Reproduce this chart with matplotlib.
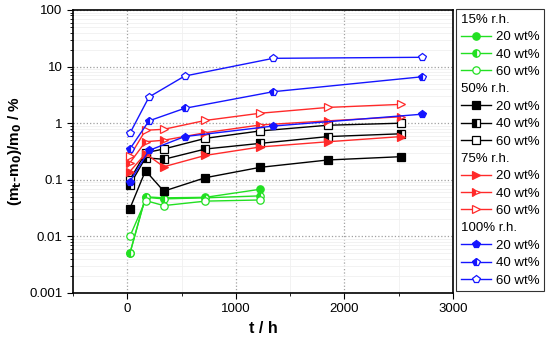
import matplotlib.pyplot as plt
from matplotlib.lines import Line2D
from matplotlib.ticker import MultipleLocator, LogLocator, NullFormatter, FixedLocator, FixedFormatter

# Data
t15 = [24, 168, 336, 720, 1224]
t50 = [24, 168, 336, 720, 1224, 1848, 2520]
t75 = [24, 168, 336, 720, 1224, 1848, 2520]
t100 = [24, 200, 528, 1344, 2712]

g20 = [0.005, 0.050, 0.048, 0.049, 0.068]
g40 = [0.005, 0.049, 0.046, 0.048, 0.052]
g60 = [0.010, 0.043, 0.035, 0.042, 0.044]

k20 = [0.031, 0.145, 0.063, 0.109, 0.166, 0.224, 0.256]
k40 = [0.081, 0.245, 0.23, 0.35, 0.44, 0.58, 0.65]
k60 = [0.10, 0.30, 0.35, 0.54, 0.73, 0.92, 1.0]

r20 = [0.14, 0.29, 0.17, 0.27, 0.38, 0.47, 0.58]
r40 = [0.20, 0.47, 0.50, 0.68, 0.93, 1.1, 1.3]
r60 = [0.26, 0.75, 0.78, 1.12, 1.5, 1.9, 2.15]

b20 = [0.093, 0.33, 0.58, 0.89, 1.44]
b40 = [0.35, 1.1, 1.83, 3.6, 6.6]
b60 = [0.66, 2.9, 6.8, 14, 14.6]

groups = [
    ('15% r.h.', '#22e022', 'o', t15, [g20, g40, g60]),
    ('50% r.h.', 'black', 's', t50, [k20, k40, k60]),
    ('75% r.h.', '#ff2a2a', '>', t75, [r20, r40, r60]),
    ('100% r.h.', '#1515ff', 'p', t100, [b20, b40, b60]),
]
wt_labels = ['20 wt%', '40 wt%', '60 wt%']
fills = ['full', 'left', 'none']

plt.rcParams['font.family'] = ['Liberation Sans', 'DejaVu Sans']
fig = plt.figure(figsize=(5.5, 3.46), dpi=100)
ax = fig.add_axes([0.1327, 0.1532, 0.6909, 0.8179])

handles = []
labels = []
for title, col, mk, t, series in groups:
    handles.append(Line2D([], [], linestyle='none'))
    labels.append(title)
    for y, lab, fs in zip(series, wt_labels, fills):
        if fs == 'none':
            kw = dict(markerfacecolor='white', markeredgecolor=col)
        else:
            kw = dict(markerfacecolor=col, markeredgecolor=col, fillstyle=fs,
                      markerfacecoloralt='white')
        ms = 6 if mk == 'p' else 5.3
        ln, = ax.plot(t, y, color=col, marker=mk, markersize=ms, linewidth=1.0,
                      markeredgewidth=0.9, **kw)
        handles.append(ln)
        labels.append(lab)

ax.set_yscale('log')
ax.set_xlim(-500, 3000)
ax.set_ylim(0.001, 100)
ax.xaxis.set_major_locator(MultipleLocator(1000))
ax.xaxis.set_minor_locator(MultipleLocator(500))
ax.yaxis.set_major_locator(FixedLocator([0.001, 0.01, 0.1, 1, 10, 100]))
ax.yaxis.set_major_formatter(FixedFormatter(['0.001', '0.01', '0.1', '1', '10', '100']))
ax.yaxis.set_minor_locator(LogLocator(base=10, subs=range(2, 10), numticks=20))
ax.yaxis.set_minor_formatter(NullFormatter())
ax.tick_params(which='major', direction='out', length=4, labelsize=9.5, color='black')
ax.tick_params(which='minor', direction='out', length=2)
ax.grid(which='major', linestyle=':', color='#a0a0a0', linewidth=0.9)
ax.grid(which='minor', linestyle='-', color='#f0f0f0', linewidth=0.6)
ax.set_axisbelow(True)
for s in ax.spines.values():
    s.set_linewidth(1.2)

ax.set_xlabel('t / h', fontsize=11.5, fontweight='bold')
ax.set_ylabel('(m$_\\mathbf{t}$-m$_\\mathbf{0}$)/m$_\\mathbf{0}$ / %', fontsize=11, fontweight='bold')

leg = fig.legend(handles, labels, loc='upper left', bbox_to_anchor=(0.829, 0.974),
                 fontsize=9.5, frameon=True, fancybox=False, handlelength=2.3,
                 handletextpad=0.4, labelspacing=0.39, borderpad=0.35, borderaxespad=0,
                 markerscale=1.0)
leg.get_frame().set_edgecolor('black')
leg.get_frame().set_linewidth(0.8)

# pull the group titles to the left edge (no handle space)
for col in leg._legend_handle_box.get_children():
    for row in col.get_children():
        txt = row.get_children()[1].get_children()[0]
        if txt.get_text().endswith('r.h.'):
            row.get_children()[0].width = 0
            row.sep = 0

fig.savefig('out.png', dpi=100)
